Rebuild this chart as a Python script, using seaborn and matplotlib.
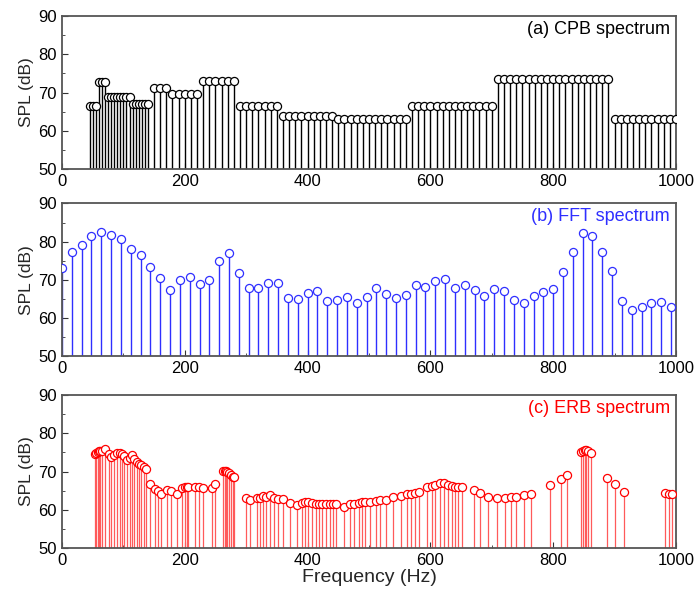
import numpy as np
import pandas as pd
import matplotlib
matplotlib.use("Agg")
import matplotlib.pyplot as plt
from matplotlib.ticker import MultipleLocator
import seaborn as sns

# (a) CPB spectrum: 1/3-octave band levels, shown on each line of the band
cpb_band_start = [45, 60, 75, 90, 115, 150, 180, 230, 290, 360, 450, 570, 710, 900]
cpb_band_stop = [55, 70, 85, 110, 140, 170, 220, 280, 350, 440, 560, 700, 890, 1000]
cpb_band_step = [5, 5, 5, 5, 5, 10, 10, 10, 10, 10, 10, 10, 10, 10]
cpb_band_level = [66.6, 72.7, 68.8, 68.8, 67.0, 71.2, 69.6, 73.0, 66.4, 63.9, 63.2, 66.5, 73.6, 63.0]

# (b) FFT spectrum, 16 Hz bins
fft_level = [73.2, 77.2, 79.1, 81.4, 82.6, 81.7, 80.8, 78.1, 76.4, 73.5,
             70.5, 67.5, 70.0, 70.7, 69.0, 70.1, 74.9, 77.1, 71.7, 68.0,
             68.0, 69.3, 69.3, 65.4, 65.1, 66.6, 67.0, 64.5, 64.8, 65.5,
             64.0, 65.5, 67.8, 66.4, 65.4, 66.0, 68.8, 68.2, 69.6, 70.3,
             67.8, 68.7, 67.3, 65.9, 67.6, 67.1, 64.8, 64.0, 65.9, 66.8,
             67.7, 72.2, 77.2, 82.2, 81.4, 77.3, 72.3, 64.4, 62.1, 62.9,
             64.1, 64.2, 62.9]
fft_freq = [16 * k for k in range(len(fft_level))]

# (c) ERB spectrum
erb_freq = [54, 56, 58, 60, 62, 66, 70, 76, 80, 84, 90, 94, 98, 101, 106, 110,
            114, 118, 122, 125, 129, 133, 137, 144, 152, 156, 162, 171, 178, 188,
            196, 200, 203, 206, 217, 223, 230, 245, 250, 263, 265, 267, 269, 272,
            275, 278, 280, 300, 306, 317, 323, 327, 332, 339, 346, 352, 360, 371,
            382, 391, 396, 401, 407, 413, 418, 424, 430, 436, 441, 447, 459, 469,
            476, 484, 489, 494, 501, 511, 518, 527, 539, 552, 562, 569, 575, 581,
            595, 603, 608, 615, 622, 629, 636, 640, 645, 652, 671, 681, 694, 708,
            721, 732, 740, 753, 764, 795, 813, 822, 846, 849, 852, 854, 857, 862,
            888, 900, 915, 982, 988, 993]
erb_level = [74.6, 74.9, 75.1, 75.3, 75.4, 75.4, 76.0, 74.6, 73.8, 74.2, 74.9, 74.9,
             74.6, 74.1, 72.9, 73.5, 74.3, 73.3, 72.4, 72.0, 71.6, 71.2, 70.6, 66.7,
             65.4, 64.8, 64.1, 65.3, 64.9, 64.2, 65.6, 66.0, 66.0, 66.0, 65.9, 65.9,
             65.8, 65.6, 66.7, 70.1, 70.2, 70.2, 69.9, 69.6, 69.2, 68.7, 68.5, 63.2,
             62.6, 63.1, 63.2, 63.5, 63.4, 63.8, 63.0, 62.8, 62.8, 61.8, 61.2, 61.8,
             62.0, 62.0, 61.7, 61.6, 61.4, 61.5, 61.5, 61.5, 61.5, 61.5, 60.6, 61.4,
             61.6, 61.9, 62.1, 62.1, 62.1, 62.4, 62.5, 62.5, 63.3, 63.7, 64.0, 64.1,
             64.3, 64.6, 65.9, 66.2, 66.6, 67.0, 66.9, 66.5, 66.1, 66.0, 66.0, 66.0,
             65.2, 64.5, 63.4, 63.2, 63.0, 63.4, 63.4, 63.9, 64.1, 66.4, 68.0, 69.2,
             75.2, 75.5, 75.6, 75.6, 75.4, 74.9, 68.4, 66.8, 64.6, 64.3, 64.1, 64.1]

# build CPB lines from the band table
cpb_freq, cpb_level = [], []
for f0, f1, st, lv in zip(cpb_band_start, cpb_band_stop, cpb_band_step, cpb_band_level):
    fr = list(range(f0, f1 + 1, st))
    cpb_freq += fr
    cpb_level += [lv] * len(fr)

sns.set_style("ticks")
plt.rcParams['font.family'] = ['Liberation Sans', 'DejaVu Sans']

fig = plt.figure(figsize=(6.94, 5.95), dpi=100)
left, width, height = 0.0893, 0.8847, 0.257
bottoms = [0.716, 0.401, 0.079]

panels = [
    (cpb_freq, cpb_level, "black", "black", 1.0, "(a) CPB spectrum"),
    (fft_freq, fft_level, "#2f2fff", "#2f2fff", 1.0, "(b) FFT spectrum"),
    (erb_freq, erb_level, "red", "#ff5a5a", 0.9, "(c) ERB spectrum"),
]

for i, (fr, lv, col, stemcol, lw, label) in enumerate(panels):
    ax = fig.add_axes([left, bottoms[i], width, height])
    df = pd.DataFrame({"f": fr, "spl": lv})
    ax.vlines(df["f"], 50, df["spl"], color=stemcol, lw=lw, zorder=2)
    sns.scatterplot(data=df, x="f", y="spl", ax=ax, marker="o", s=34,
                    facecolor="white", edgecolor=col, linewidth=0.9,
                    zorder=3, legend=False)
    ax.set_xlim(0, 1000)
    ax.set_ylim(50, 90)
    ax.xaxis.set_major_locator(MultipleLocator(200))
    ax.xaxis.set_minor_locator(MultipleLocator(100))
    ax.yaxis.set_major_locator(MultipleLocator(10))
    ax.yaxis.set_minor_locator(MultipleLocator(5))
    ax.tick_params(which="both", direction="in", labelsize=12, colors="#333333",
                   labelcolor="black")
    ax.tick_params(which="major", length=4)
    ax.tick_params(which="minor", length=2)
    for sp in ax.spines.values():
        sp.set_color("#555555")
        sp.set_linewidth(1.3)
    ax.set_ylabel("SPL (dB)", fontsize=12.5, labelpad=3)
    ax.set_xlabel("Frequency (Hz)" if i == 2 else "", fontsize=14, labelpad=1)
    ax.text(0.99, 0.915, label, transform=ax.transAxes, ha="right", va="center",
            fontsize=13, color=col)

fig.savefig("out.png", dpi=100)
